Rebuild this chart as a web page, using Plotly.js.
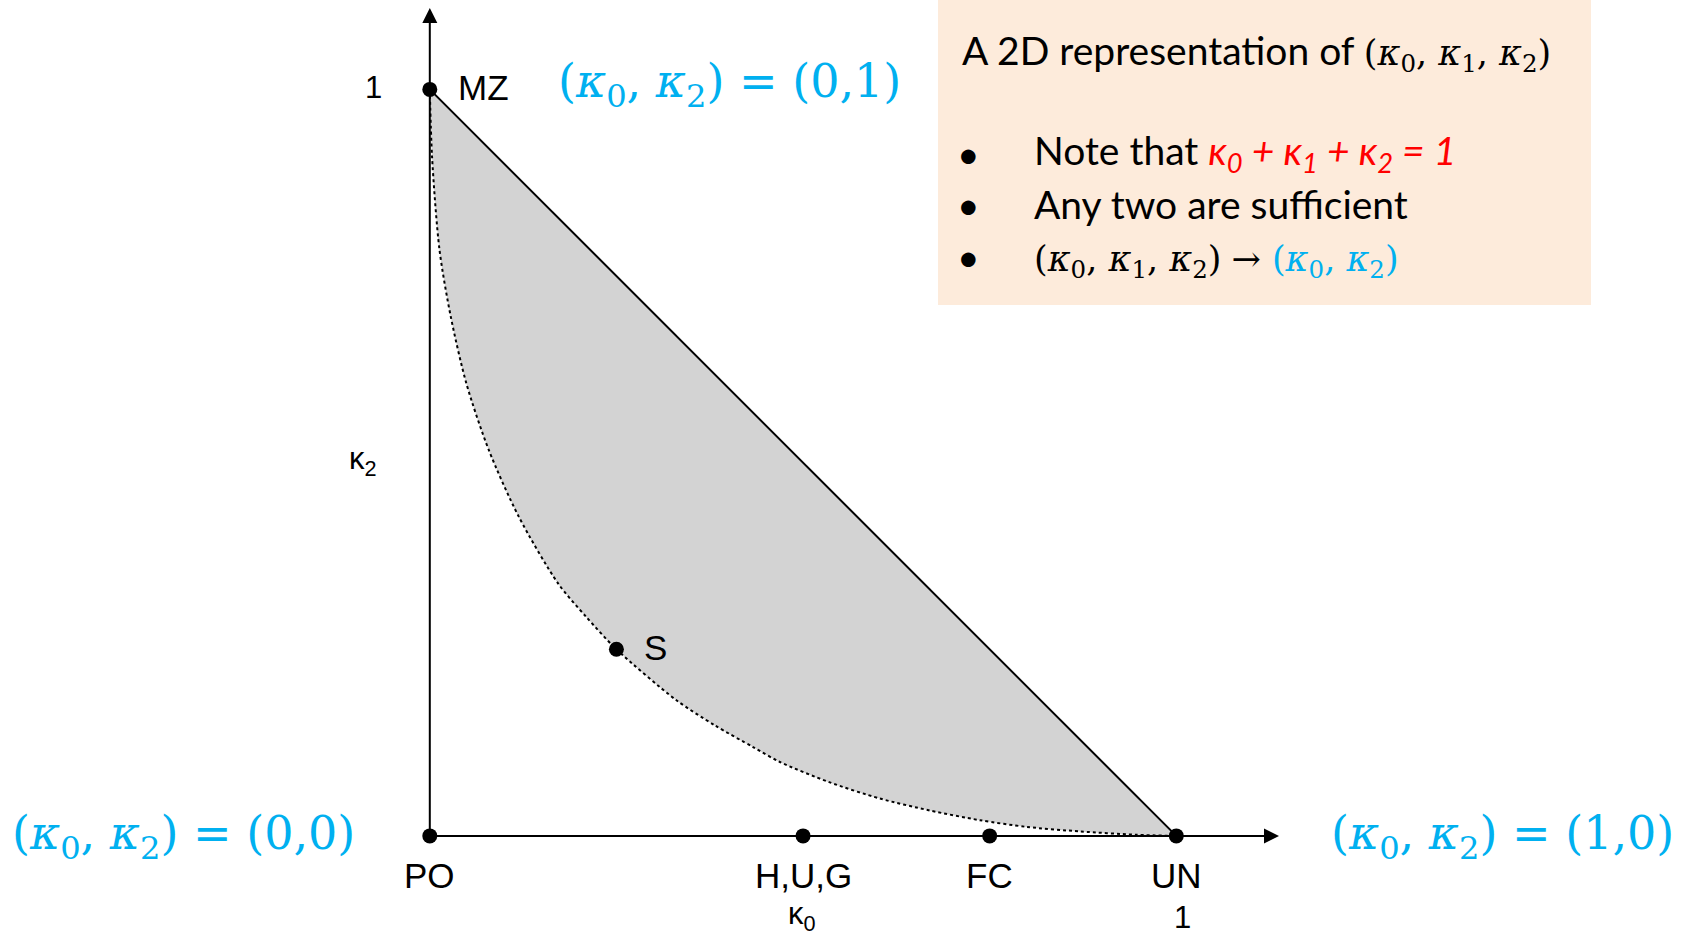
<!DOCTYPE html>
<html><head><meta charset="utf-8">
<script src="https://cdn.plot.ly/plotly-3.0.1.min.js"></script>
<style>html,body{margin:0;padding:0;background:#fff;overflow:hidden}</style>
</head><body><div id="chart" style="width:1689px;height:937px"></div>
<script>
// ---- data ----
const pointNames = ['PO', 'H,U,G', 'FC', 'UN', 'MZ', 'S'];
const pointK0 = [0, 0.5, 0.75, 1, 0, 0.25];
const pointK2 = [0, 0, 0, 0, 1, 0.25];
// lower boundary of the admissible region (dotted curve)
const curveK0 = [0, 0.003, 0.013, 0.028, 0.049, 0.079, 0.119, 0.172, 0.209, 0.25, 0.33, 0.382, 0.433, 0.469, 0.535, 0.603, 0.67, 0.737, 0.80, 0.871, 0.946, 1];
const curveK2 = [1, 0.91, 0.785, 0.696, 0.606, 0.517, 0.428, 0.338, 0.294, 0.25, 0.182, 0.148, 0.119, 0.099, 0.072, 0.050, 0.034, 0.021, 0.012, 0.006, 0.0015, 0];
// upper boundary: kappa0 + kappa2 = 1
const edgeK0 = [0, 1];
const edgeK2 = [1, 0];
const axisTicks = ['1', '1'];

// ---- geometry helpers (pixel -> data) ----
const W = 1689, H = 937, PX = 746.5, OX = 429.8, OY = 835.9;
const X = p => (p - OX) / PX;
const Y = p => (OY - p) / PX;

const SANS = 'Liberation Sans, Arial, sans-serif';
const BOX = 'Lato, Calibri, sans-serif';
const MATH = "DejaVu Serif, serif";
const BLUE = '#00B0F0';
const k = n => '<i>κ</i><sub>' + n + '</sub>';

const traces = [
  { x: curveK0, y: curveK2, mode: 'lines', fill: 'toself', fillcolor: '#D3D3D3',
    line: { width: 0, shape: 'spline', smoothing: 0.8, color: 'rgba(0,0,0,0)' }, hoverinfo: 'skip' },
  { x: curveK0, y: curveK2, mode: 'lines', line: { width: 2, dash: 'dot', color: '#000', shape: 'spline', smoothing: 0.8 }, hoverinfo: 'skip' },
  { x: edgeK0, y: edgeK2, mode: 'lines', line: { width: 2, color: '#000' }, hoverinfo: 'skip' },
  { x: pointK0, y: pointK2, mode: 'markers', marker: { size: 15, color: '#000' }, text: pointNames, hoverinfo: 'text' }
];

const ann = [];
// axes with arrow heads
ann.push({ x: X(1279), y: 0, ax: 0, ay: 0, axref: 'x', ayref: 'y', xref: 'x', yref: 'y', text: '', showarrow: true, arrowhead: 2, arrowsize: 1.5, arrowwidth: 2, arrowcolor: '#000' });
ann.push({ x: 0, y: Y(8), ax: 0, ay: 0, axref: 'x', ayref: 'y', xref: 'x', yref: 'y', text: '', showarrow: true, arrowhead: 2, arrowsize: 1.5, arrowwidth: 2, arrowcolor: '#000' });

// point labels
const labelFont = { family: SANS, size: 35, color: '#000' };
pointNames.forEach((n, i) => {
  const a = { x: pointK0[i], y: pointK2[i], xref: 'x', yref: 'y', text: n, showarrow: false, font: labelFont };
  if (pointK2[i] === 0) { a.xanchor = 'center'; a.yanchor = 'middle'; a.yshift = -40; }
  else { a.xanchor = 'left'; a.yanchor = 'middle'; a.xshift = 26; a.yshift = 2; }
  ann.push(a);
});

// axis tick / title labels
const tickFont = { family: SANS, size: 31, color: '#000' };
ann.push({ x: X(373), y: Y(87), text: axisTicks[1], showarrow: false, font: tickFont, xanchor: 'center', yanchor: 'middle' });
ann.push({ x: X(1182), y: Y(917), text: axisTicks[0], showarrow: false, font: tickFont, xanchor: 'center', yanchor: 'middle' });
ann.push({ x: X(363), y: Y(461), text: 'κ<sub>2</sub>', showarrow: false, font: tickFont, xanchor: 'center', yanchor: 'middle' });
ann.push({ x: X(802), y: Y(916), text: 'κ<sub>0</sub>', showarrow: false, font: tickFont, xanchor: 'center', yanchor: 'middle' });

// blue coordinate labels
const blueFont = { family: MATH, size: 46, color: BLUE };
const pair = '(' + k(0) + ', ' + k(2) + ')';
ann.push({ x: X(556), y: Y(84), text: pair + ' = (0,1)', showarrow: false, font: blueFont, xanchor: 'left', yanchor: 'middle' });
ann.push({ x: X(10), y: Y(836), text: pair + ' = (0,0)', showarrow: false, font: blueFont, xanchor: 'left', yanchor: 'middle' });
ann.push({ x: X(1329), y: Y(836), text: pair + ' = (1,0)', showarrow: false, font: blueFont, xanchor: 'left', yanchor: 'middle' });

// info box text
const boxFont = { family: BOX, size: 39, color: '#000' };
const MS = "font-family:'DejaVu Serif';font-size:35px";
const triple = '<span style="' + MS + '">(' + k(0) + ', ' + k(1) + ', ' + k(2) + ')</span>';
ann.push({ x: X(960), y: Y(52), text: 'A 2D representation of ' + triple, showarrow: false, font: boxFont, xanchor: 'left', yanchor: 'middle' });
const bulletY = [153, 204, 256];
bulletY.forEach(py => ann.push({ x: X(968), y: Y(py), text: '•', showarrow: false, font: boxFont, xanchor: 'center', yanchor: 'middle' }));
ann.push({ x: X(1032), y: Y(153), text: 'Note that <span style="color:#FF0000"><i>κ<sub>0</sub> + κ<sub>1</sub> + κ<sub>2</sub> = 1</i></span>', showarrow: false, font: boxFont, xanchor: 'left', yanchor: 'middle' });
ann.push({ x: X(1032), y: Y(204), text: 'Any two are sufficient', showarrow: false, font: boxFont, xanchor: 'left', yanchor: 'middle' });
ann.push({ x: X(1032), y: Y(258), text: triple + ' <span style="' + MS + '">→ <span style="color:' + BLUE + '">(' + k(0) + ', ' + k(2) + ')</span></span>', showarrow: false, font: boxFont, xanchor: 'left', yanchor: 'middle' });

const layout = {
  width: W, height: H, margin: { l: 0, r: 0, t: 0, b: 0, pad: 0 },
  paper_bgcolor: '#fff', plot_bgcolor: '#fff', showlegend: false,
  xaxis: { range: [X(0), X(W)], visible: false, fixedrange: true },
  yaxis: { range: [Y(H), Y(0)], visible: false, fixedrange: true },
  shapes: [{ type: 'rect', xref: 'paper', yref: 'paper', x0: 938 / W, x1: 1591 / W, y0: 1 - 305 / H, y1: 1,
             fillcolor: '#FDEBDB', line: { width: 0 }, layer: 'below' }],
  annotations: ann
};
Plotly.newPlot('chart', traces, layout, { staticPlot: true, displayModeBar: false });
</script></body></html>
